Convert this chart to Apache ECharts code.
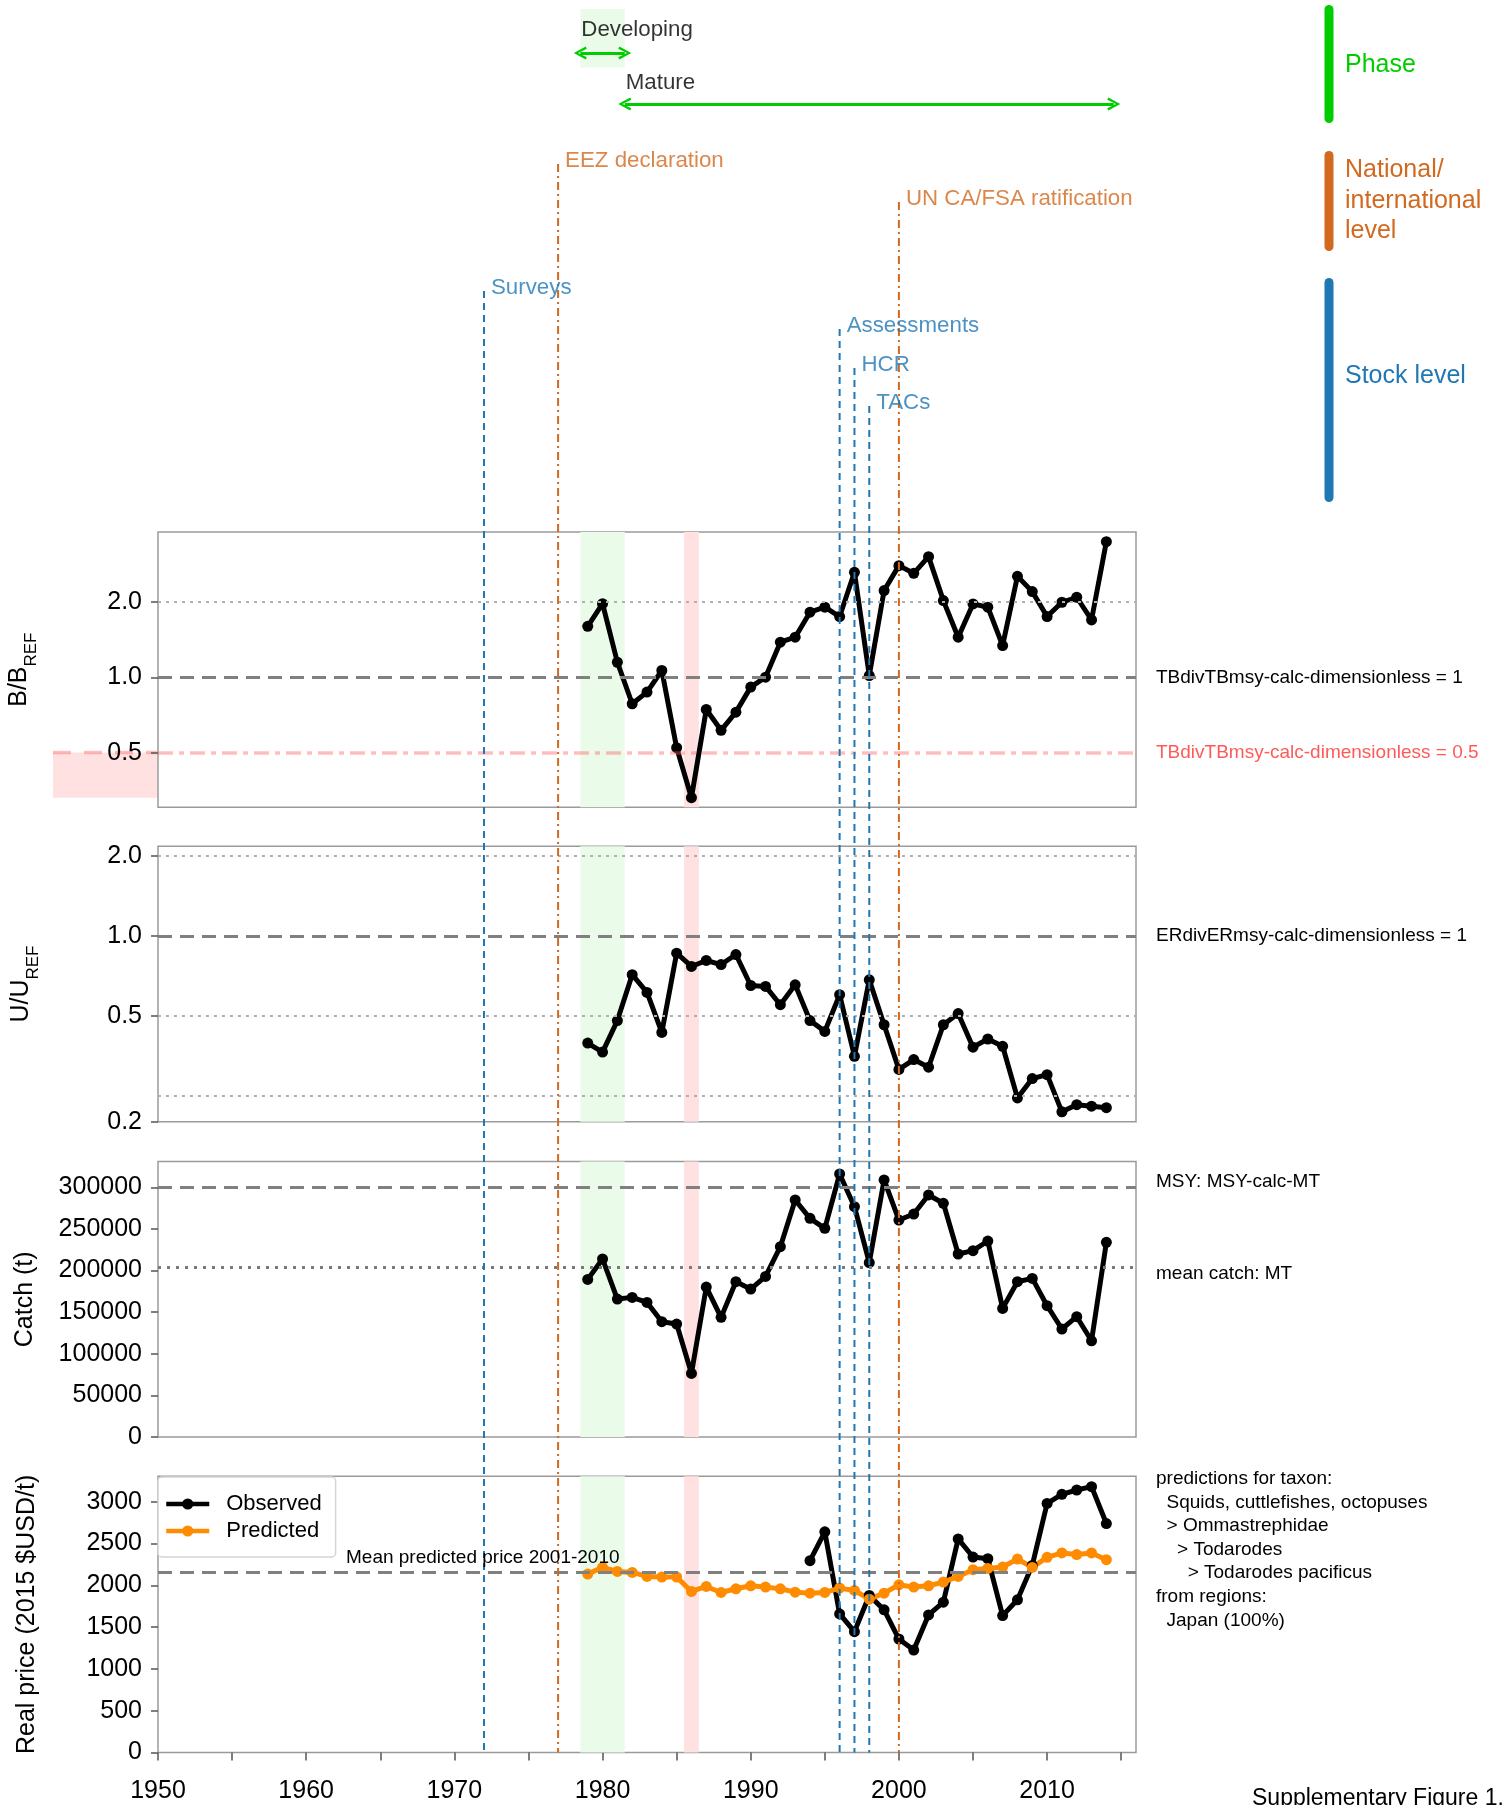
<!DOCTYPE html>
<html>
<head>
<meta charset="utf-8">
<script src="https://cdn.jsdelivr.net/npm/echarts@6/dist/echarts.min.js"></script>
<style>
html, body { margin: 0; padding: 0; background: #fff; }
#chart { width: 1505px; height: 1805px; }
</style>
</head>
<body>
<div id="chart"></div>
<script>
const FONT = 'Liberation Sans, Arial, sans-serif';

// 年份
let years = [1979, 1980, 1981, 1982, 1983, 1984, 1985, 1986, 1987, 1988, 1989, 1990,
    1991, 1992, 1993, 1994, 1995, 1996, 1997, 1998, 1999, 2000, 2001, 2002,
    2003, 2004, 2005, 2006, 2007, 2008, 2009, 2010, 2011, 2012, 2013, 2014];

// B/Bref
let bRatio = [1.60, 1.97, 1.15, 0.785, 0.874, 1.066, 0.524, 0.331, 0.745, 0.615, 0.727, 0.915,
    1.003, 1.383, 1.448, 1.822, 1.908, 1.751, 2.630, 1.018, 2.223, 2.796, 2.606, 3.037,
    2.028, 1.448, 1.967, 1.908, 1.341, 2.535, 2.202, 1.751, 1.997, 2.091, 1.698, 3.485];

// U/Uref
let uRatio = [0.396, 0.366, 0.481, 0.716, 0.614, 0.434, 0.863, 0.769, 0.810, 0.782, 0.853, 0.652,
    0.647, 0.552, 0.656, 0.481, 0.438, 0.602, 0.353, 0.685, 0.464, 0.315, 0.343, 0.321,
    0.464, 0.511, 0.382, 0.410, 0.385, 0.246, 0.291, 0.301, 0.218, 0.232, 0.229, 0.226];

// catch (t)
let catchT = [189400, 213900, 165800, 167800, 161800, 138600, 135800, 76500, 180200, 143800, 186600, 177800,
    193000, 228700, 284800, 262700, 250700, 316000, 276700, 209500, 308800, 260700, 267900, 290800,
    280800, 219900, 223900, 235500, 154600, 186600, 190600, 157800, 129800, 144600, 115700, 233900];

// real price
let priceObs = [null, null, null, null, null, null, null, null, null, null, null, null,
    null, null, null, 2295, 2640, 1658, 1446, 1879, 1707, 1358, 1226, 1646,
    1799, 2556, 2339, 2319, 1638, 1827, 2239, 2980, 3089, 3141, 3181, 2740];
let pricePred = [2135, 2215, 2167, 2155, 2107, 2099, 2099, 1927, 1987, 1915, 1959, 1995,
    1979, 1959, 1919, 1907, 1915, 1967, 1939, 1835, 1907, 2007, 1979, 1995,
    2039, 2107, 2187, 2203, 2219, 2315, 2215, 2335, 2388, 2368, 2388, 2307];

let msyCatch = 300000;

// 刻度
let tickYears = [1950, 1955, 1960, 1965, 1970, 1975, 1980, 1985, 1990, 1995, 2000, 2005, 2010, 2015];
let labelYears = [1950, 1960, 1970, 1980, 1990, 2000, 2010];
let bTicks = [0.5, 1, 2];
let uTicks = [0.2, 0.5, 1, 2];
let catchTicks = [0, 50000, 100000, 150000, 200000, 250000, 300000];
let priceTicks = [0, 500, 1000, 1500, 2000, 2500, 3000];

// 阴影
let greenShade = [1978.5, 1981.5];
let redShade = [1985.5, 1986.5];

// 事件
let eventYears = [1972, 1977, 1996, 1997, 1998, 2000];
let eventNames = ['Surveys', 'EEZ declaration', 'Assessments', 'HCR', 'TACs', 'UN CA/FSA ratification'];
let eventLevel = ['stock', 'national', 'stock', 'stock', 'stock', 'national'];
let eventLabelY = [288, 161, 326, 365, 403, 199];

// 阶段
let phaseNames = ['Developing', 'Mature'];
let phaseStart = [1978.5, 1981.5];
let phaseEnd = [1981.5, 2014.5];
let phaseArrowY = [53, 104];
let phaseLabelY = [30, 83];

const BOTTOM = 1752.5;
const GREEN = '#00cc00';
const ORANGE = '#d2691e';
const BLUE = '#1f77b4';

let meanCatch = catchT.reduce((a, b) => a + b, 0) / catchT.length;
let predWin = pricePred.filter((v, i) => years[i] >= 2001 && years[i] <= 2010);
let meanPred = predWin.reduce((a, b) => a + b, 0) / predWin.length;

function pairs(arr) {
    return years.map((y, i) => [y, arr[i]]);
}

let dashGray = {color: '#808080', width: 3, type: [14, 8]};
let dotGray = {color: '#b0b0b0', width: 2, type: [3, 5]};
let dotDark = {color: '#7a7a7a', width: 3, type: [3, 6]};
let redDashDot = {color: 'rgba(255,90,90,0.4)', width: 3.5, type: [15, 6, 5, 6]};

let shadeArea = {
    silent: true,
    data: [
        [{xAxis: greenShade[0], itemStyle: {color: '#eafce9'}}, {xAxis: greenShade[1]}],
        [{xAxis: redShade[0], itemStyle: {color: '#ffe1e1'}}, {xAxis: redShade[1]}]
    ]
};

function refLines(list) {
    return {
        silent: true,
        symbol: 'none',
        label: {show: false},
        data: list.map(d => ({yAxis: d[0], lineStyle: d[1]}))
    };
}

let tops = [532, 846.3, 1161.5, 1476.3];
let heights = [275.3, 275.5, 275.6, 276.2];

let grids = [{left: 158, right: 369, top: 0, height: BOTTOM, show: false, outerBoundsMode: 'none'}];
tops.forEach((t, i) => {
    grids.push({
        left: 158, right: 369, top: t, height: heights[i],
        show: true, borderColor: '#9a9a9a', borderWidth: 1.5,
        backgroundColor: 'transparent', outerBoundsMode: 'none'
    });
});

function panelX(gridIndex, showLabels) {
    return {
        type: 'value', gridIndex: gridIndex, min: 1950, max: 2016,
        axisLine: {show: false},
        splitLine: {show: false},
        axisTick: {show: showLabels, length: 8, customValues: tickYears, lineStyle: {color: '#555', width: 1.5}},
        axisLabel: {
            show: showLabels, customValues: labelYears, fontSize: 25, color: '#000', margin: 26, fontFamily: FONT,
            formatter: v => String(Math.round(v))
        }
    };
}

let nameStyle = {
    fontSize: 25, color: '#000', fontFamily: FONT,
    rich: {
        m: {fontSize: 25, fontFamily: FONT, verticalAlign: 'top', lineHeight: 33},
        s: {fontSize: 17, fontFamily: FONT, verticalAlign: 'bottom', lineHeight: 33}
    }
};

function panelY(gridIndex, extra) {
    let ax = {
        gridIndex: gridIndex,
        nameLocation: 'middle', nameRotate: 90,
        nameTextStyle: nameStyle,
        axisLine: {show: false},
        splitLine: {show: false},
        axisTick: {length: 7, lineStyle: {color: '#555', width: 1.5}},
        axisLabel: {fontSize: 25, color: '#000', margin: 16, fontFamily: FONT}
    };
    ax = Object.assign(ax, extra);
    return ax;
}

let xAxes = [
    {type: 'value', gridIndex: 0, min: 1950, max: 2016, show: false},
    panelX(1, false), panelX(2, false), panelX(3, false), panelX(4, true)
];

let yAxes = [
    {type: 'value', gridIndex: 0, min: 0, max: BOTTOM, inverse: true, show: false},
    panelY(1, {type: 'log', logBase: 2, min: 0.303, max: 3.81, name: '{m|B/B}{s|REF}', nameGap: 118}),
    panelY(2, {type: 'log', logBase: 2, min: 0.2, max: 2.18, name: '{m|U/U}{s|REF}', nameGap: 116}),
    panelY(3, {type: 'value', min: 0, max: 331000, name: 'Catch (t)', nameGap: 120}),
    panelY(4, {type: 'value', min: 0, max: 3305, name: 'Real price (2015 $USD/t)', nameGap: 118})
];
yAxes[1].axisTick.customValues = bTicks;
yAxes[1].axisLabel = Object.assign({}, yAxes[1].axisLabel, {customValues: bTicks, formatter: v => Number(v).toFixed(1)});
yAxes[2].axisTick = Object.assign({}, yAxes[2].axisTick, {customValues: uTicks});
yAxes[2].axisLabel = Object.assign({}, yAxes[2].axisLabel, {customValues: uTicks, formatter: v => Number(v).toFixed(1)});
yAxes[3].axisTick = Object.assign({}, yAxes[3].axisTick, {customValues: catchTicks});
yAxes[3].axisLabel = Object.assign({}, yAxes[3].axisLabel, {customValues: catchTicks, formatter: v => String(Math.round(v))});
yAxes[4].axisTick = Object.assign({}, yAxes[4].axisTick, {customValues: priceTicks});
yAxes[4].axisLabel = Object.assign({}, yAxes[4].axisLabel, {customValues: priceTicks, formatter: v => String(Math.round(v))});

function dataLine(name, xi, data, color) {
    return {
        name: name, type: 'line', xAxisIndex: xi, yAxisIndex: xi,
        data: data, symbol: 'circle', symbolSize: 11, showSymbol: true,
        lineStyle: {color: color, width: 5},
        itemStyle: {color: color},
        z: 2
    };
}

let series = [];

let s1 = dataLine('B', 1, pairs(bRatio), '#000');
s1.markLine = refLines([[2, dotGray], [1, dashGray], [0.5, redDashDot]]);
s1.markArea = shadeArea;
series.push(s1);

let s2 = dataLine('U', 2, pairs(uRatio), '#000');
s2.markLine = refLines([[2, dotGray], [1, dashGray], [0.5, dotGray], [0.25, dotGray]]);
s2.markArea = shadeArea;
series.push(s2);

let s3 = dataLine('Catch', 3, pairs(catchT), '#000');
s3.markLine = refLines([[msyCatch, dashGray], [meanCatch, dotDark]]);
s3.markArea = shadeArea;
series.push(s3);

let s4 = dataLine('Observed', 4, pairs(priceObs), '#000');
s4.markLine = refLines([[meanPred, dashGray]]);
s4.markArea = shadeArea;
series.push(s4);
series.push(dataLine('Predicted', 4, pairs(pricePred), '#ff8c00'));

// 事件竖线
eventYears.forEach((yr, i) => {
    let national = eventLevel[i] === 'national';
    series.push({
        type: 'line', xAxisIndex: 0, yAxisIndex: 0, silent: true,
        data: [[yr, eventLabelY[i] + 3], [yr, BOTTOM]],
        symbol: 'none',
        lineStyle: national
            ? {color: ORANGE, width: 2, type: [8, 4, 2, 4]}
            : {color: BLUE, width: 2, type: [7, 5]},
        z: 5
    });
});

series.push({
    type: 'scatter', xAxisIndex: 0, yAxisIndex: 0, silent: true,
    symbolSize: 0, itemStyle: {color: 'rgba(0,0,0,0)'},
    data: eventYears.map((yr, i) => ({
        value: [yr, eventLabelY[i]],
        label: {color: eventLevel[i] === 'national' ? ORANGE : BLUE}
    })),
    label: {
        show: true, position: 'right', distance: 7, fontSize: 22.3, fontFamily: FONT,
        formatter: p => eventNames[p.dataIndex]
    },
    z: 5
});

// 阶段箭头
let chevron = 'path://M0,11 L6,0 L12,11 L10,12 L6,4 L2,12 Z';
series.push({
    type: 'lines', coordinateSystem: 'cartesian2d', xAxisIndex: 0, yAxisIndex: 0, silent: true,
    symbol: [chevron, chevron], symbolSize: 13,
    lineStyle: {color: GREEN, width: 3, opacity: 1},
    data: phaseNames.map((n, i) => ({coords: [[phaseStart[i], phaseArrowY[i]], [phaseEnd[i], phaseArrowY[i]]]})),
    z: 5
});

series.push({
    type: 'scatter', xAxisIndex: 0, yAxisIndex: 0, silent: true,
    symbolSize: 0, itemStyle: {color: 'rgba(0,0,0,0)'},
    data: phaseNames.map((n, i) => [phaseStart[i], phaseLabelY[i]]),
    label: {
        show: true, position: 'right', distance: 1, fontSize: 22.3, fontFamily: FONT, color: '#000',
        formatter: p => phaseNames[p.dataIndex]
    },
    markArea: {
        silent: true,
        itemStyle: {color: '#eafce9'},
        data: [[{coord: [greenShade[0], 9]}, {coord: [greenShade[1], 67.5]}]]
    },
    z: 4
});

function txt(x, y, text, size, color, va) {
    return {
        type: 'text', x: x, y: y, z: 10,
        style: {text: text, fontSize: size, fontFamily: FONT, fill: color || '#000', verticalAlign: va || 'middle', lineHeight: size === 25 ? 30.5 : 23.6}
    };
}

function bar(y1, y2, color) {
    return {
        type: 'line', z: 10,
        shape: {x1: 1329, y1: y1, x2: 1329, y2: y2},
        style: {stroke: color, lineWidth: 9, lineCap: 'round'}
    };
}

let graphics = [
    {type: 'rect', z: -1, shape: {x: 53, y: 752.5, width: 104.5, height: 45.2}, style: {fill: '#ffe1e1'}},
    {type: 'line', z: -1, shape: {x1: 53, y1: 752.5, x2: 157, y2: 752.5}, style: {stroke: 'rgba(255,90,90,0.4)', lineWidth: 3.5, lineDash: [18, 13]}},
    bar(9.5, 118.5, GREEN),
    bar(155.5, 246.5, ORANGE),
    bar(282.5, 497.5, BLUE),
    txt(1345, 65, 'Phase', 25, GREEN),
    txt(1345, 201, 'National/\ninternational\nlevel', 25, ORANGE),
    txt(1345, 376, 'Stock level', 25, BLUE),
    txt(1156, 678, 'TBdivTBmsy-calc-dimensionless = 1', 19),
    txt(1156, 753, 'TBdivTBmsy-calc-dimensionless = 0.5', 19, '#ff5a5a'),
    txt(1156, 936, 'ERdivERmsy-calc-dimensionless = 1', 19),
    txt(1156, 1182, 'MSY: MSY-calc-MT', 19),
    txt(1156, 1274, 'mean catch: MT', 19),
    txt(1156, 1467, 'predictions for taxon:\n  Squids, cuttlefishes, octopuses\n  > Ommastrephidae\n    > Todarodes\n      > Todarodes pacificus\nfrom regions:\n  Japan (100%)', 19, '#000', 'top'),
    txt(346, 1558, 'Mean predicted price 2001-2010', 19),
    txt(1252, 1787, 'Supplementary Figure 1.', 23, '#000', 'top')
];

let myChart = echarts.init(document.getElementById('chart'), null, {renderer: 'canvas'});
myChart.setOption({
    animation: false,
    backgroundColor: '#fff',
    textStyle: {fontFamily: FONT},
    grid: grids,
    xAxis: xAxes,
    yAxis: yAxes,
    legend: {
        data: ['Observed', 'Predicted'], orient: 'vertical', left: 158, top: 1477,
        padding: [16, 14, 15, 6], itemGap: 5, itemWidth: 43, itemHeight: 14,
        backgroundColor: 'rgba(255,255,255,0.85)', borderColor: '#d5d5d5', borderWidth: 1.5, borderRadius: 4,
        lineStyle: {width: 4.5},
        textStyle: {fontSize: 22, color: '#000', fontFamily: FONT, padding: [0, 0, 0, 12]},
        selectedMode: false
    },
    graphic: graphics,
    series: series
});
</script>
</body>
</html>
